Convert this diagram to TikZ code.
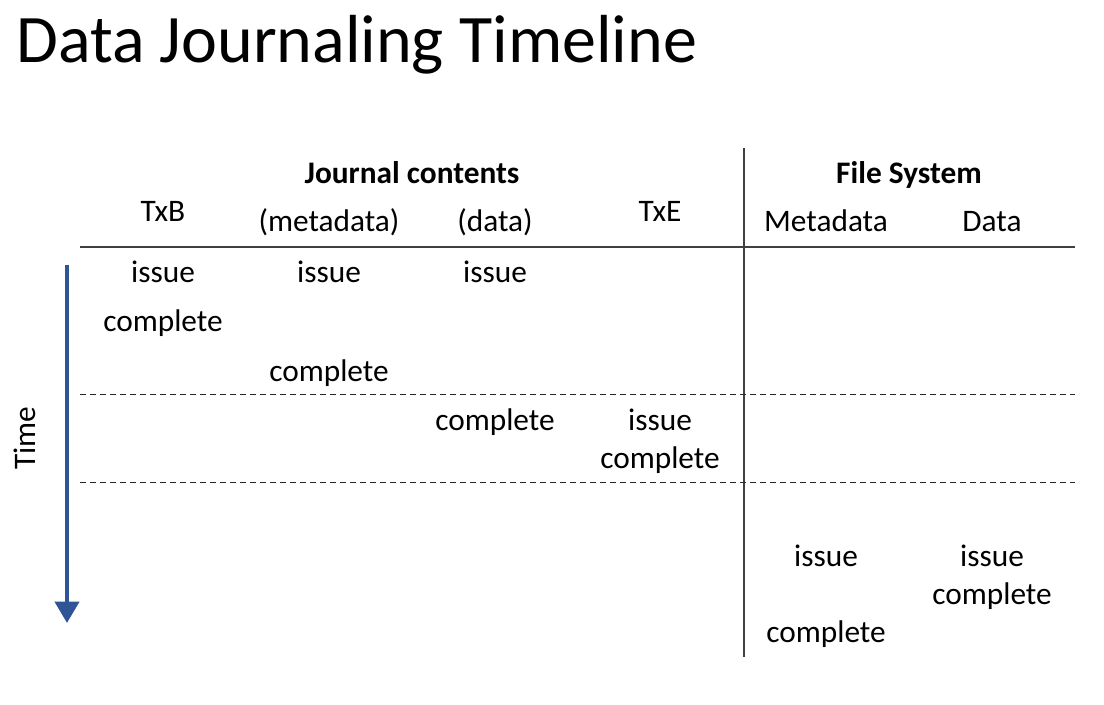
\documentclass[tikz,border=0pt]{standalone}
\usepackage{xcolor}
\usepackage{fontspec}
\setmainfont{Carlito}
\usetikzlibrary{arrows.meta}

\begin{document}
\begin{tikzpicture}[x=0.75pt,y=0.75pt,yscale=-1,xscale=1,
  cell/.style={anchor=base,inner sep=0pt,font=\fontsize{23.5}{28}\selectfont},
  head/.style={cell,font=\fontsize{23.5}{28}\selectfont\bfseries},
  rowsep/.style={color={rgb, 255:red, 40; green, 40; blue, 40 },line width=0.75,dash pattern=on 4.5pt off 3pt},
  rule/.style={color={rgb, 255:red, 64; green, 64; blue, 64 },line width=1.1}]
%set diagram size
\path[use as bounding box] (0,0) rectangle (1104,705);

% Text Node
\draw (16,62.7) node [anchor=base west,inner sep=0pt,font=\fontsize{51}{60}\selectfont] (title) {Data Journaling Timeline};

%Straight Lines [id:header]
\draw [rule] (80,247) -- (1075,247) ;
%Straight Lines [id:split]
\draw [rule] (744,148) -- (744,657) ;
%Straight Lines [id:sep1]
\draw [rowsep] (80,395) -- (1075,395) ;
%Straight Lines [id:sep2]
\draw [rowsep] (80,483) -- (1075,483) ;

%Time arrow
\coordinate (tstart) at (67,265) ;
\coordinate (tend) at (67,623) ;
\draw [color={rgb, 255:red, 47; green, 85; blue, 151 },line width=3,-{Triangle[width=18pt,length=16pt]}] (tstart) -- (tend) ;
% Text Node
\draw (25,438) node [rotate=90,font=\fontsize{23.5}{28}\selectfont] (time) {Time};

% Text Node
\draw (412,183.3) node [head] (jc) {Journal contents};
% Text Node
\draw (909,183.3) node [head] (fs) {File System};
% Text Node
\draw (163,221.7) node [cell] (txb) {TxB};
% Text Node
\draw (329,231.7) node [cell] (jmeta) {(metadata)};
% Text Node
\draw (495,231.7) node [cell] (jdata) {(data)};
% Text Node
\draw (660,221.7) node [cell] (txe) {TxE};
% Text Node
\draw (826,231.7) node [cell] (fmeta) {Metadata};
% Text Node
\draw (992,231.7) node [cell] (fdata) {Data};

% Text Node
\draw (163,282.7) node [cell] (txbi) {issue};
% Text Node
\draw (329,282.7) node [cell] (jmetai) {issue};
% Text Node
\draw (495,282.7) node [cell] (jdatai) {issue};
% Text Node
\draw (163,331.7) node [cell] (txbc) {complete};
% Text Node
\draw (329,381.7) node [cell] (jmetac) {complete};
% Text Node
\draw (495,430.3) node [cell] (jdatac) {complete};
% Text Node
\draw (660,430.3) node [cell] (txei) {issue};
% Text Node
\draw (660,468.3) node [cell] (txec) {complete};
% Text Node
\draw (826,567) node [cell] (fmetai) {issue};
% Text Node
\draw (992,567) node [cell] (fdatai) {issue};
% Text Node
\draw (992,605) node [cell] (fdatac) {complete};
% Text Node
\draw (826,643) node [cell] (fmetac) {complete};

\end{tikzpicture}
\end{document}
